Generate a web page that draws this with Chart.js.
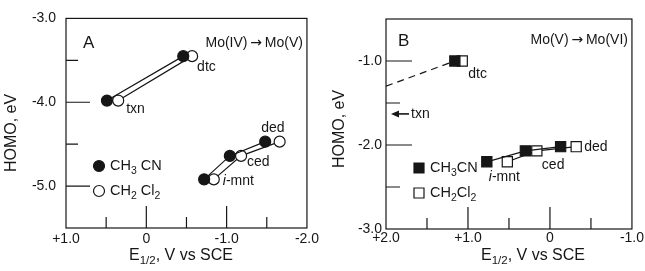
<!DOCTYPE html>
<html>
<head>
<meta charset="utf-8">
<script src="https://cdn.jsdelivr.net/npm/chart.js@4.4.0/dist/chart.umd.min.js"></script>
<style>
  body { margin: 0; background: #fff; width: 645px; height: 271px; overflow: hidden; position: relative; }
  canvas { position: absolute; top: 0; }
</style>
</head>
<body>
<canvas id="chartA" width="322" height="271" style="left:0"></canvas>
<canvas id="chartB" width="323" height="271" style="left:322px"></canvas>
<script>
// Panel A: Mo(IV) -> Mo(V)
const ligandsA = ["txn", "dtc", "i-mnt", "ced", "ded"];
const eA_ch3cn = [0.49, -0.46, -0.72, -1.04, -1.48];
const eA_ch2cl2 = [0.35, -0.57, -0.84, -1.18, -1.66];
const homoA = [-3.98, -3.45, -4.92, -4.64, -4.47];
const groupsA = [[0, 1], [2, 3, 4]];

// Panel B: Mo(V) -> Mo(VI)
const ligandsB = ["dtc", "i-mnt", "ced", "ded"];
const eB_ch3cn = [1.16, 0.77, 0.30, -0.13];
const eB_ch2cl2 = [1.07, 0.52, 0.16, -0.32];
const homoB = [-1.00, -2.20, -2.07, -2.02];
const groupsB = [[0], [1, 2, 3]];
const dashE = [2.0, 1.16];
const dashHomo = [-1.30, -1.00];
const txnHomoB = -1.63;

// tick labels
const xTicksA = [1, 0, -1, -2];
const xLabelsA = ["+1.0", "0", "-1.0", "-2.0"];
const yTicksA = [-3, -4, -5];
const yLabelsA = ["-3.0", "-4.0", "-5.0"];
const xTicksB = [2, 1, 0, -1];
const xLabelsB = ["+2.0", "+1.0", "0", "-1.0"];
const yTicksB = [-1, -2, -3];
const yLabelsB = ["-1.0", "-2.0", "-3.0"];

const INK = "#161616";
const FONT = "'Liberation Sans', Arial, sans-serif";

function points(xs, ys, groups) {
  const out = [];
  groups.forEach((g, gi) => {
    if (gi > 0) out.push({ x: null, y: null });
    g.forEach(i => out.push({ x: xs[i], y: ys[i] }));
  });
  return out;
}

function labeler(vals, texts) {
  return v => {
    const i = vals.findIndex(t => Math.abs(t - v) < 1e-6);
    return i >= 0 ? texts[i] : "";
  };
}

function fontOf(p, size) {
  return (p.it ? "italic " : "") + (p.sub ? size * 0.72 : size) + "px " + (p.sym ? "'DejaVu Sans', sans-serif" : FONT);
}

function rich(ctx, parts, x, y, size, align) {
  let w = 0;
  parts.forEach(p => {
    ctx.font = fontOf(p, size);
    p.w = ctx.measureText(p.t).width;
    w += p.w;
  });
  let cx = align === "center" ? x - w / 2 : align === "right" ? x - w : x;
  ctx.textBaseline = "middle";
  ctx.textAlign = "left";
  parts.forEach(p => {
    ctx.font = fontOf(p, size);
    ctx.fillText(p.t, cx, y + (p.sub ? size * 0.32 : 0));
    cx += p.w;
  });
}

function scaleOpts(min, max, vals, texts, pad, axis) {
  return {
    type: "linear",
    min: min, max: max,
    reverse: axis === "x",
    grid: { display: false, drawTicks: false },
    border: { display: false },
    ticks: {
      stepSize: 0.5,
      autoSkip: false,
      maxRotation: 0,
      padding: pad,
      color: INK,
      font: { family: FONT, size: 14 },
      callback: labeler(vals, texts)
    }
  };
}

// box, inward tick marks, labels, legend, titles
const decor = {
  id: "decor",
  afterDatasetsDraw(chart, args, o) {
    const ctx = chart.ctx;
    const a = chart.chartArea;
    const xs = chart.scales.x, ys = chart.scales.y;
    ctx.save();
    ctx.strokeStyle = INK;
    ctx.fillStyle = INK;
    ctx.lineWidth = 1.2;
    ctx.strokeRect(a.left, a.top, a.right - a.left, a.bottom - a.top);

    ctx.beginPath();
    xs.ticks.forEach(t => {
      if (t.value <= xs.min + 1e-6 || t.value >= xs.max - 1e-6) return;
      const px = xs.getPixelForValue(t.value);
      const len = Math.abs(t.value % 1) < 1e-6 ? o.xLong : o.xShort;
      ctx.moveTo(px, a.bottom);
      ctx.lineTo(px, a.bottom - len);
    });
    ys.ticks.forEach(t => {
      if (t.value <= ys.min + 1e-6 || t.value >= ys.max - 1e-6) return;
      const py = ys.getPixelForValue(t.value);
      const len = Math.abs(t.value % 1) < 1e-6 ? o.yLong : o.yShort;
      ctx.moveTo(a.left, py);
      ctx.lineTo(a.left + len, py);
    });
    ctx.stroke();

    // panel letter and process
    ctx.textBaseline = "middle";
    ctx.font = "17px " + FONT;
    ctx.textAlign = "left";
    ctx.fillText(o.letter, a.left + o.letterDx, o.letterY);
    rich(ctx, [{ t: o.process[0] }, { t: "\u2009\u2192\u2009", sym: true }, { t: o.process[1] }], a.right - 4, o.processY, 14, "right");

    // point labels
    o.labels.forEach(l => {
      const px = xs.getPixelForValue(l.x) + l.dx;
      const py = ys.getPixelForValue(l.y) + l.dy;
      rich(ctx, l.t === "i-mnt" ? [{ t: "i", it: true }, { t: "-mnt" }] : [{ t: l.t }], px, py, 14, "left");
    });

    // legend
    o.legend.forEach(item => {
      const px = a.left + o.legendDx, py = item.y;
      ctx.beginPath();
      if (o.square) ctx.rect(px - 5, py - 5, 10, 10);
      else ctx.arc(px, py, 5.5, 0, Math.PI * 2);
      ctx.fillStyle = item.filled ? INK : "#fff";
      ctx.fill();
      ctx.stroke();
      ctx.fillStyle = INK;
      rich(ctx, item.parts, px + 11, py, 14.5, "left");
    });

    // txn arrow (panel B)
    if (o.arrowY !== undefined) {
      const py = ys.getPixelForValue(o.arrowY);
      const x0 = a.left + 5, x1 = a.left + 23;
      ctx.beginPath();
      ctx.moveTo(x0 + 5, py);
      ctx.lineTo(x1, py);
      ctx.lineWidth = 1.6;
      ctx.stroke();
      ctx.beginPath();
      ctx.moveTo(x0, py);
      ctx.lineTo(x0 + 8, py - 3.5);
      ctx.lineTo(x0 + 8, py + 3.5);
      ctx.closePath();
      ctx.fill();
      rich(ctx, [{ t: "txn" }], x1 + 2, py, 14, "left");
    }

    // axis titles
    rich(ctx, [{ t: "E" }, { t: "1/2", sub: true }, { t: ", V vs SCE" }], o.xTitleX, o.xTitleY, 16, "center");
    ctx.save();
    ctx.translate(o.yTitleX, o.yTitleY);
    ctx.rotate(-Math.PI / 2);
    rich(ctx, [{ t: "HOMO, eV" }], 0, 0, 16, "center");
    ctx.restore();
    ctx.restore();
  }
};

function series(data, filled, square, radius) {
  return {
    data: data,
    showLine: true,
    spanGaps: false,
    borderColor: INK,
    borderWidth: 1.2,
    pointStyle: square ? "rect" : "circle",
    pointRadius: radius,
    pointHoverRadius: radius,
    pointBackgroundColor: filled ? INK : "#fff",
    pointBorderColor: INK,
    pointBorderWidth: 1.2
  };
}

function makeChart(id, datasets, sc, layout, decorOpts) {
  return new Chart(document.getElementById(id), {
    type: "scatter",
    data: { datasets: datasets },
    options: {
      responsive: false,
      animation: false,
      layout: { padding: layout.padding },
      plugins: { legend: { display: false }, tooltip: { enabled: false }, decor: decorOpts },
      scales: {
        x: Object.assign(sc.x, { afterFit: s => { s.height = layout.xHeight; } }),
        y: Object.assign(sc.y, { afterFit: s => { s.width = layout.yWidth; } })
      }
    },
    plugins: [decor]
  });
}

makeChart("chartA",
  [
    series(points(eA_ch3cn, homoA, groupsA), true, false, 5.5),
    series(points(eA_ch2cl2, homoA, groupsA), false, false, 5.5)
  ],
  { x: scaleOpts(-2, 1, xTicksA, xLabelsA, 3, "x"), y: scaleOpts(-5.5, -3, yTicksA, yLabelsA, 10, "y") },
  { padding: { left: 0, top: 17, right: 7, bottom: 0 }, xHeight: 43, yWidth: 66 },
  {
    xLong: 22, xShort: 11, yLong: 24, yShort: 12,
    letter: "A", letterDx: 17, letterY: 43,
    process: ["Mo(IV)", "Mo(V)"], processY: 43,
    labels: [
      { t: ligandsA[0], x: eA_ch2cl2[0], y: homoA[0], dx: 8, dy: 9 },
      { t: ligandsA[1], x: eA_ch2cl2[1], y: homoA[1], dx: 5, dy: 11 },
      { t: ligandsA[2], x: eA_ch2cl2[2], y: homoA[2], dx: 9, dy: 2 },
      { t: ligandsA[3], x: eA_ch2cl2[3], y: homoA[3], dx: 6, dy: 6 },
      { t: ligandsA[4], x: eA_ch3cn[4], y: homoA[4], dx: -4, dy: -14 }
    ],
    legendDx: 33, square: false,
    legend: [
      { y: 166, filled: true, parts: [{ t: "CH" }, { t: "3", sub: true }, { t: " CN" }] },
      { y: 191, filled: false, parts: [{ t: "CH" }, { t: "2", sub: true }, { t: " Cl" }, { t: "2", sub: true }] }
    ],
    xTitleX: 181, xTitleY: 256, yTitleX: 12, yTitleY: 133
  });

makeChart("chartB",
  [
    series(points(eB_ch3cn, homoB, groupsB), true, true, 7.2),
    series(points(eB_ch2cl2, homoB, groupsB), false, true, 7.2),
    {
      data: dashE.map((e, i) => ({ x: e, y: dashHomo[i] })),
      showLine: true, borderColor: INK, borderWidth: 1.2, borderDash: [7, 5], pointRadius: 0
    }
  ],
  { x: scaleOpts(-1, 2, xTicksB, xLabelsB, 1, "x"), y: scaleOpts(-3, -0.5, yTicksB, yLabelsB, 4, "y") },
  { padding: { left: 0, top: 19, right: 13, bottom: 0 }, xHeight: 42, yWidth: 64 },
  {
    xLong: 22, xShort: 11, yLong: 26, yShort: 14,
    letter: "B", letterDx: 12, letterY: 41,
    process: ["Mo(V)", "Mo(VI)"], processY: 40,
    labels: [
      { t: ligandsB[0], x: eB_ch2cl2[0], y: homoB[0], dx: 6, dy: 13 },
      { t: ligandsB[1], x: eB_ch3cn[1], y: homoB[1], dx: 2, dy: 15 },
      { t: ligandsB[2], x: eB_ch2cl2[2], y: homoB[2], dx: 5, dy: 14 },
      { t: ligandsB[3], x: eB_ch2cl2[3], y: homoB[3], dx: 8, dy: 0 }
    ],
    legendDx: 33, square: true,
    legend: [
      { y: 168, filled: true, parts: [{ t: "CH" }, { t: "3", sub: true }, { t: "CN" }] },
      { y: 193, filled: false, parts: [{ t: "CH" }, { t: "2", sub: true }, { t: "Cl" }, { t: "2", sub: true }] }
    ],
    arrowY: txnHomoB,
    xTitleX: 211, xTitleY: 256, yTitleX: 18, yTitleY: 129
  });
</script>
</body>
</html>
